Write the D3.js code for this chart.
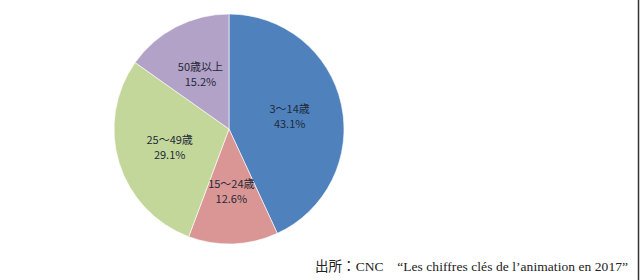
<!DOCTYPE html>
<html>
<meta charset="utf-8">
<style>

body {
  margin: 0;
  background: #fff;
}

.label {
  font: 11px "Noto Sans CJK JP", sans-serif;
  fill: #1f2a38;
  text-anchor: middle;
}

.source {
  font: 13.5px "Liberation Serif", "Noto Sans CJK JP", serif;
  fill: #222;
}

</style>
<body>
<script src="https://d3js.org/d3.v7.min.js"></script>
<script>

var categories = ["3～14歳", "15～24歳", "25～49歳", "50歳以上"],
    shares = [43.1, 12.6, 29.1, 15.2],
    colors = ["#4f81bd", "#da9694", "#c4d79b", "#b3a2c7"];

var width = 640,
    height = 280,
    cx = 229,
    cy = 129,
    radius = 115;

var svg = d3.select("body").append("svg")
    .attr("width", width)
    .attr("height", height);

var g = svg.append("g")
    .attr("transform", "translate(" + cx + "," + cy + ")");

var pie = d3.pie()
    .sort(null)
    .value(function(d) { return d; });

var arc = d3.arc()
    .innerRadius(0)
    .outerRadius(radius);

var labelArc = d3.arc()
    .innerRadius(radius * 0.54)
    .outerRadius(radius * 0.54);

var arcs = pie(shares);

g.selectAll("path")
    .data(arcs)
  .enter().append("path")
    .attr("d", arc)
    .attr("fill", function(d, i) { return colors[i]; })
    .attr("stroke", "#fff")
    .attr("stroke-width", 0.6);

var labels = g.selectAll(".label")
    .data(arcs)
  .enter().append("text")
    .attr("class", "label")
    .attr("transform", function(d) { return "translate(" + labelArc.centroid(d) + ")"; });

labels.append("tspan")
    .attr("x", 0)
    .attr("y", -3)
    .text(function(d, i) { return categories[i]; });

labels.append("tspan")
    .attr("x", 0)
    .attr("y", 12)
    .text(function(d) { return d.value.toFixed(1) + "%"; });

svg.append("text")
    .attr("class", "source")
    .attr("x", 315)
    .attr("y", 271)
    .attr("textLength", 313)
    .text("出所：CNC　“Les chiffres clés de l’animation en 2017”");

svg.append("line")
    .attr("x1", 638.5)
    .attr("x2", 638.5)
    .attr("y1", 0)
    .attr("y2", height)
    .attr("stroke", "#333")
    .attr("stroke-width", 1.5);

</script>
</body>
</html>
